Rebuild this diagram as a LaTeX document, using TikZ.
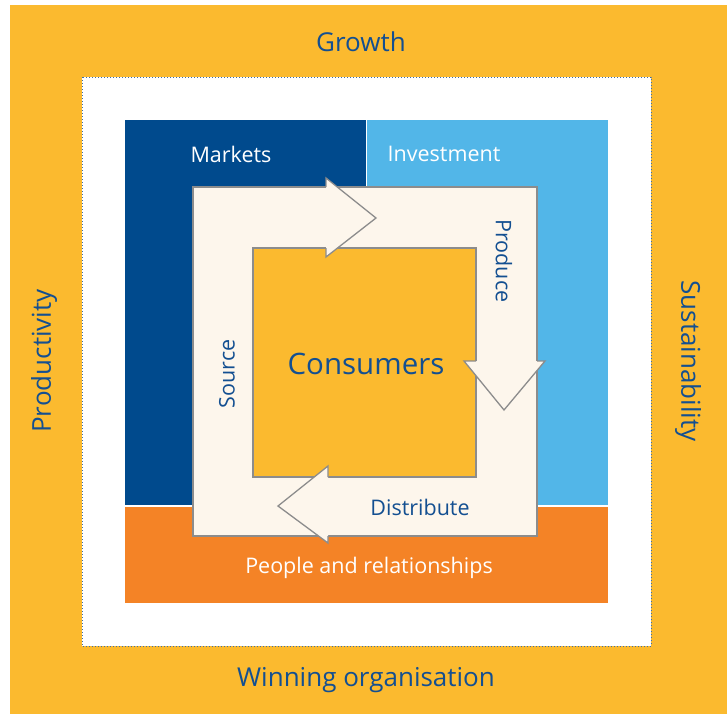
\documentclass[tikz,border=0pt]{standalone}
\usepackage{fontspec}
\setmainfont{Open Sans}
\definecolor{bgyellow}{HTML}{FBBA2F}
\definecolor{darkblue}{HTML}{004A8D}
\definecolor{lightblue}{HTML}{52B6E8}
\definecolor{orangeband}{HTML}{F48326}
\definecolor{cream}{HTML}{FDF6EC}
\definecolor{outlinegray}{HTML}{8C8C8C}
\definecolor{textblue}{HTML}{134F91}
\definecolor{dotblue}{HTML}{3E6FA8}
\begin{document}
\begin{tikzpicture}[x=1pt,y=-1pt,
  outer/.style={text=textblue,font=\fontsize{26}{28}\selectfont,inner sep=0pt},
  wlabel/.style={text=white,font=\fontsize{21.5}{23}\selectfont,inner sep=0pt},
  blabel/.style={text=textblue,font=\fontsize{21.5}{23}\selectfont,inner sep=0pt},
  gline/.style={draw=outlinegray,line width=1.3pt,line join=miter}]
\useasboundingbox (0,0) rectangle (727,715);
% background
\fill[bgyellow] (10,5) rectangle (727,714);
\fill[white] (82,77) rectangle (651,646);
\draw[dotblue,dotted,line width=1pt] (82,77) rectangle (651,646);
% quadrants
\fill[darkblue] (125,120) rectangle (366,505);
\fill[lightblue] (367,120) rectangle (608,505);
\fill[orangeband] (125,507) rectangle (608,603);
% cream frame
\path[fill=cream,even odd rule,gline] (193,187) rectangle (537,536) (253,248) rectangle (476,477);
\fill[bgyellow] (253,248) rectangle (476,477);
\draw[gline] (253,248) rectangle (476,477);
% arrow heads
\fill[cream] (326,178) -- (376,218) -- (326,257) -- cycle;
\draw[gline] (326,187) -- (326,178) -- (376,218) -- (326,257) -- (326,248);
\fill[cream] (464,361) -- (504,410) -- (545,361) -- cycle;
\draw[gline] (476,361) -- (464,361) -- (504,410) -- (545,361) -- (537,361);
\fill[cream] (328,466) -- (278,506) -- (328,543) -- cycle;
\draw[gline] (328,477) -- (328,466) -- (278,506) -- (328,543) -- (328,536);
% labels
\node[outer] (growth) at (361,42) {Growth};
\node[outer] (winning) at (366,680) {Winning organisation};
\node[outer,rotate=90] (productivity) at (44,361) {Productivity};
\node[outer,rotate=-90] (sustainability) at (688,361) {Sustainability};
\node[wlabel] (markets) at (231,154) {Markets};
\node[wlabel] (investment) at (444,154) {Investment};
\node[blabel,rotate=-90] (produce) at (504,261) {Produce};
\node[blabel,rotate=90] (source) at (227,374) {Source};
\node[text=textblue,font=\fontsize{29.5}{31}\selectfont,inner sep=0pt] (consumers) at (366,364) {Consumers};
\node[blabel] (distribute) at (420,507) {Distribute};
\node[wlabel] (people) at (369,568) {People and relationships};
\end{tikzpicture}
\end{document}
